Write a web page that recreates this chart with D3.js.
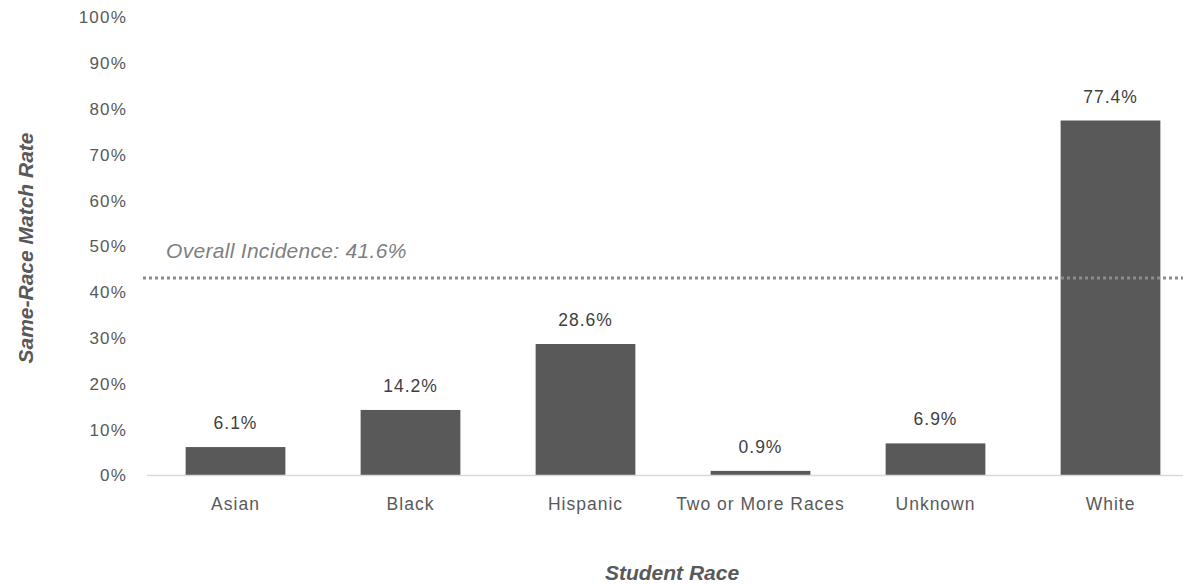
<!DOCTYPE html>
<html><head><meta charset="utf-8">
<script src="https://cdn.jsdelivr.net/npm/d3@7"></script>
<style>body{margin:0;background:#fff}svg{display:block}</style>
</head><body>
<svg id="c" width="1183" height="585"></svg>
<script>
const categories = ["Asian","Black","Hispanic","Two or More Races","Unknown","White"];
const values = [6.1, 14.2, 28.6, 0.9, 6.9, 77.4];
const yTicks = [0,10,20,30,40,50,60,70,80,90,100];
const refLineValue = 43.0;
const refLabel = "Overall Incidence: 41.6%";
const yTitle = "Same-Race Match Rate";
const xTitle = "Student Race";

const svg = d3.select("#c");
const font = "'Liberation Sans', Arial, sans-serif";
const x = d3.scaleBand().domain(categories).range([148,1198]).paddingInner(0.43).paddingOuter(0.215);
const y = d3.scaleLinear().domain([0,100]).range([475,17]);

// bars
svg.selectAll("rect.bar").data(values).join("rect")
  .attr("x",(d,i)=>x(categories[i])).attr("width",x.bandwidth())
  .attr("y",d=>y(d)).attr("height",d=>y(0)-y(d)).attr("fill","#595959");

// x axis line
svg.append("line").attr("x1",147).attr("x2",1183).attr("y1",y(0)+0.5).attr("y2",y(0)+0.5)
  .attr("stroke","#d9d9d9").attr("stroke-width",1.5);

// y axis ticks
const yAxis = d3.axisLeft(y).tickValues(yTicks).tickFormat(d=>d+"%").tickSize(0).tickPadding(0);
const ga = svg.append("g").attr("transform","translate(127,0)").call(yAxis);
ga.select(".domain").remove();
ga.selectAll("text").attr("font-family",font).attr("font-size",17).attr("fill","#595959").attr("dy","0.35em").attr("letter-spacing","1.2");

// x labels
const xAxis = d3.axisBottom(x).tickSize(0).tickPadding(0);
const gx = svg.append("g").attr("transform","translate(0,498)").call(xAxis);
gx.select(".domain").remove();
gx.selectAll("text").attr("font-family",font).attr("font-size",17.5).attr("fill","#595959").attr("dy","0.71em").attr("letter-spacing","1");

// value labels
svg.selectAll("text.val").data(values).join("text")
  .attr("x",(d,i)=>x(categories[i])+x.bandwidth()/2).attr("y",d=>y(d)-18)
  .attr("text-anchor","middle").attr("font-family",font).attr("font-size",17.5)
  .attr("fill","#404040").attr("letter-spacing","1").text(d=>d.toFixed(1)+"%");

// reference line
svg.append("line").attr("x1",143).attr("x2",1183).attr("y1",y(refLineValue)).attr("y2",y(refLineValue))
  .attr("stroke","#8c8c8c").attr("stroke-width",3).attr("stroke-dasharray","3,3");
svg.append("text").attr("x",166).attr("y",y(refLineValue)-20).attr("font-family",font)
  .attr("font-size",21).attr("font-style","italic").attr("fill","#7f7f7f").attr("letter-spacing","0.3").text(refLabel);

// axis titles
svg.append("text").attr("transform","translate(33,248) rotate(-90)").attr("text-anchor","middle")
  .attr("font-family",font).attr("font-size",21).attr("font-weight","bold").attr("font-style","italic")
  .attr("fill","#595959").text(yTitle);
svg.append("text").attr("x",672).attr("y",580).attr("text-anchor","middle")
  .attr("font-family",font).attr("font-size",21).attr("font-weight","bold").attr("font-style","italic")
  .attr("fill","#595959").text(xTitle);
</script>
</body></html>
